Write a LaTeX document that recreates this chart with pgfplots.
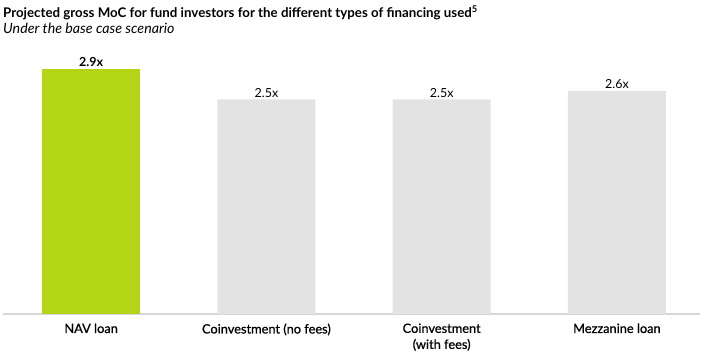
\documentclass[border=0pt]{standalone}
\usepackage{fontspec}
\setmainfont{Lato}
\usepackage{pgfplots}
\pgfplotsset{compat=1.18}
\definecolor{navgreen}{RGB}{180,213,22}
\definecolor{bargray}{RGB}{227,227,227}
\definecolor{basegray}{RGB}{215,215,215}
\begin{document}
\begin{tikzpicture}[x=1pt,y=1pt]
\useasboundingbox (0,0) rectangle (709,355);
\node[anchor=base west,inner sep=0,font=\bfseries\fontsize{13.3}{15}\selectfont] at (3,337) {Projected gross MoC for fund investors for the different types of financing used\textsuperscript{5}};
\node[anchor=base west,inner sep=0,font=\itshape\fontsize{14.2}{16}\selectfont] at (3,321) {Under the base case scenario};
\begin{axis}[
  at={(3pt,41pt)}, anchor=south west,
  scale only axis,
  width=697pt, height=253.4pt,
  xmin=-0.503, xmax=3.474,
  ymin=0, ymax=3.0,
  axis x line=bottom,
  axis y line=none,
  x axis line style={draw=basegray,line width=1.2pt,-},
  major tick length=0pt,
  xtick={0,1,2,3},
  xticklabels={NAV loan,Coinvestment (no fees),Coinvestment\\(with fees),Mezzanine loan},
  xticklabel style={align=center,font=\fontsize{12.8}{16}\selectfont\addfontfeature{FakeBold=0.8},yshift=-6pt},
  ybar, bar width=98pt, bar shift=0pt,
  nodes near coords,
  point meta=explicit symbolic,
  every node near coord/.append style={font=\fontsize{12.5}{14}\selectfont,inner sep=2pt},
  clip=false,
]
\addplot[fill=navgreen,draw=none,every node near coord/.append style={font=\bfseries\fontsize{12.5}{14}\selectfont}] coordinates {(0,2.9) [2.9x]};
\addplot[fill=bargray,draw=none] coordinates {(1,2.54) [2.5x] (2,2.54) [2.5x] (3,2.64) [2.6x]};
\end{axis}
\end{tikzpicture}
\end{document}
